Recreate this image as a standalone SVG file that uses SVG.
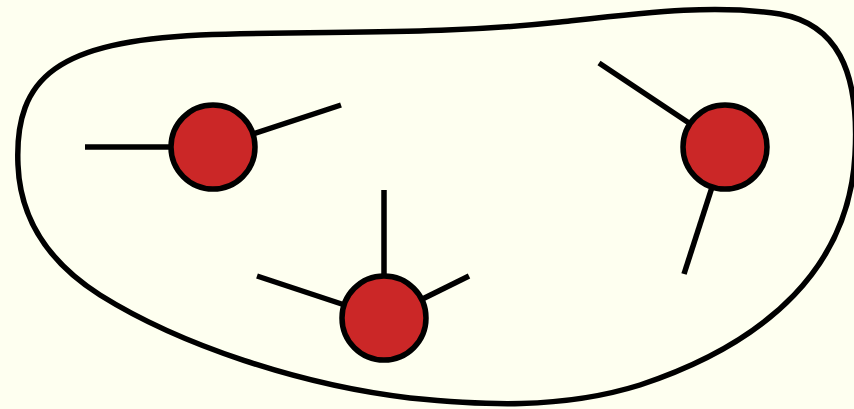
<svg xmlns="http://www.w3.org/2000/svg" width="854" height="409" viewBox="0 0 854 409">
<style>
.blob{fill:none;stroke:#000;stroke-width:5.5}
.stub{stroke:#000;stroke-width:5.5;fill:none}
.node{fill:#cb2727;stroke:#000;stroke-width:5.5}
</style>
<rect width="854" height="409" fill="#fefff0"/>
<path class="blob" d="M 18,165 C 14,75 60,42 200,35 C 330,30 430,36 560,22 C 650,12 715,4 780,14 C 835,24 860,68 855,155 C 849,265 770,342 640,385 C 560,410 480,405 410,398 C 300,385 180,345 100,295 C 45,260 20,215 18,165 Z"/>
<g id="connectors">
<line class="stub" x1="85" y1="147" x2="213" y2="147"/>
<line class="stub" x1="341" y1="105" x2="213" y2="147"/>
<line class="stub" x1="599" y1="63" x2="725" y2="147"/>
<line class="stub" x1="684" y1="274" x2="725" y2="147"/>
<line class="stub" x1="384" y1="190" x2="384" y2="318"/>
<line class="stub" x1="257" y1="276" x2="384" y2="318"/>
<line class="stub" x1="469" y1="276" x2="384" y2="318"/>
</g>
<g id="node1"><circle class="node" cx="213" cy="147" r="42"/></g>
<g id="node2"><circle class="node" cx="725" cy="147" r="42"/></g>
<g id="node3"><circle class="node" cx="384" cy="318" r="42"/></g>
</svg>
